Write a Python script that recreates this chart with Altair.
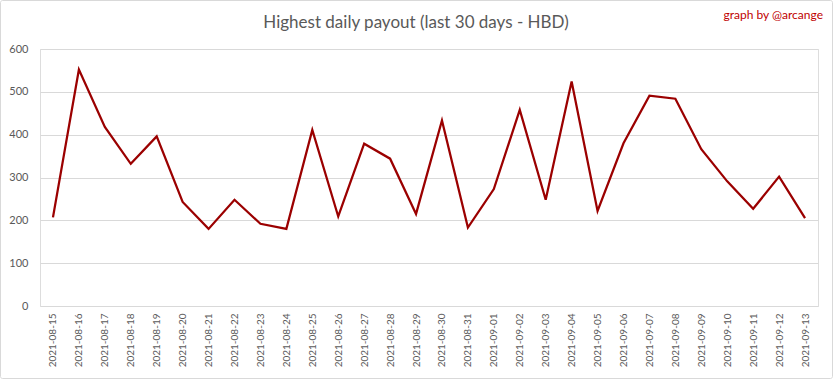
import altair as alt
import pandas as pd

dates = ["2021-08-15", "2021-08-16", "2021-08-17", "2021-08-18", "2021-08-19", "2021-08-20",
         "2021-08-21", "2021-08-22", "2021-08-23", "2021-08-24", "2021-08-25", "2021-08-26",
         "2021-08-27", "2021-08-28", "2021-08-29", "2021-08-30", "2021-08-31", "2021-09-01",
         "2021-09-02", "2021-09-03", "2021-09-04", "2021-09-05", "2021-09-06", "2021-09-07",
         "2021-09-08", "2021-09-09", "2021-09-10", "2021-09-11", "2021-09-12", "2021-09-13"]
payout = [207, 552, 418, 332, 396, 243, 180, 248, 192, 180, 411, 209, 379, 344, 215, 433,
          183, 273, 458, 248, 524, 222, 380, 491, 484, 366, 291, 227, 302, 205]
title_text = ["Highest daily payout (last 30 days - HBD)"]
credit_text = ["graph by @arcange"]

df = pd.DataFrame({"date": dates, "payout": payout})

W, H = 778, 257
PL, PT = 40, 49

line = alt.Chart(df).mark_line(color="#9b0000", strokeWidth=2.25).encode(
    x=alt.X("date:N", sort=None, title=None,
            scale=alt.Scale(type="point", padding=0.5),
            axis=alt.Axis(labelAngle=270, labelFont="Lato", labelFontSize=10,
                          labelColor="#595959", labelPadding=7, ticks=False,
                          domain=False, grid=False)),
    y=alt.Y("payout:Q", title=None,
            scale=alt.Scale(domain=[0, 600], nice=False),
            axis=alt.Axis(values=[0, 100, 200, 300, 400, 500, 600], labelFont="Lato",
                          labelFontSize=11, labelColor="#595959", labelPadding=12,
                          ticks=False, domain=False, grid=True, gridColor="#d9d9d9",
                          gridWidth=1)),
)

title = alt.Chart(pd.DataFrame({"t": title_text})).mark_text(
    align="center", baseline="middle", font="Lato", fontSize=17, color="#595959"
).encode(text="t:N", x=alt.value(416 - PL), y=alt.value(23 - PT))

credit = alt.Chart(pd.DataFrame({"t": credit_text})).mark_text(
    align="right", baseline="middle", font="Lato", fontSize=12, color="#c00000"
).encode(text="t:N", x=alt.value(783), y=alt.value(15 - PT))

border = alt.Chart(pd.DataFrame({"a": [0]})).mark_rect(
    fill=None, stroke="#d9d9d9", strokeWidth=1, cornerRadius=2
).encode(x=alt.value(-PL + 0.5), x2=alt.value(833 - PL - 0.5),
         y=alt.value(-PT + 0.5), y2=alt.value(379 - PT - 0.5))

chart = alt.layer(border, line, title, credit).properties(
    width=W, height=H,
    padding={"left": PL, "top": PT, "right": 833 - PL - W, "bottom": 379 - PT - H},
    autosize=alt.AutoSizeParams(type="none"),
).configure_view(stroke=None).configure(background="white")

chart.save("out.html", embed_options={"renderer": "svg", "actions": False})
